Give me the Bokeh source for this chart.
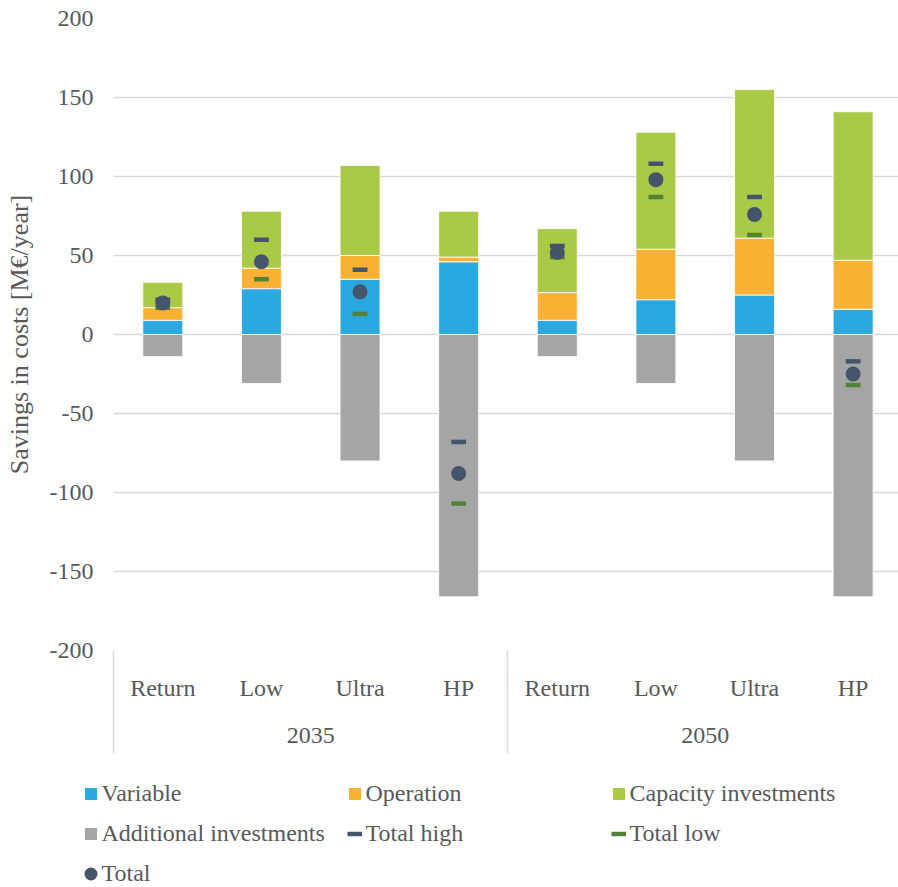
from bokeh.plotting import figure
from bokeh.layouts import column
from bokeh.models import (Range1d, FixedTicker, LinearAxis, Legend, LegendItem,
                          ColumnDataSource)
from bokeh.transform import dodge
from bokeh.embed import file_html
from bokeh.resources import INLINE

# ---- data ----
years = ["2035", "2050"]
scenarios = ["Return", "Low", "Ultra", "HP"]
variable = [9, 29, 35, 46, 9, 22, 25, 16]
operation = [8, 13, 15, 3, 17.5, 32, 36, 31]
capacity = [16, 36, 57, 29, 40.5, 74, 94, 94]
additional = [-14, -31, -80, -166, -14, -31, -80, -166]
total = [20, 46, 27, -88, 52, 98, 76, -25]
total_high = [22, 60, 41, -68, 56, 108, 87, -17]
total_low = [17, 35, 13, -107, 49, 87, 63, -32]
y_ticks = [-200, -150, -100, -50, 0, 50, 100, 150, 200]

labels = [s for _ in years for s in scenarios]
xs = [i + 0.5 for i in range(len(labels))]
year_pos = [sum(xs[k * len(scenarios):(k + 1) * len(scenarios)]) / len(scenarios)
            for k in range(len(years))]
group_edges = [k * len(scenarios) for k in range(len(years) + 1)]

src = ColumnDataSource(dict(x=xs, variable=variable, operation=operation,
                            capacity=capacity, additional=additional,
                            total=total, total_high=total_high, total_low=total_low))

FONT = "Liberation Serif"
TXT = "#595959"
FS = "24px"
C_VAR, C_OP, C_CAP, C_ADD = "#2CA8E0", "#F8B133", "#AAC947", "#A5A5A5"
C_HIGH, C_LOW, C_TOT = "#44546A", "#548235", "#44546A"

W = 898
H_TOP = 755
H_LEG = 887 - H_TOP

p = figure(width=W, height=H_TOP,
           x_range=Range1d(0, 7.96), y_range=Range1d(-200, 200),
           output_backend="svg", toolbar_location=None,
           min_border_left=113, min_border_top=18, min_border_right=0,
           min_border_bottom=H_TOP - 18 - 632)
p.outline_line_color = None

# bars
stack = p.vbar_stack(["variable", "operation", "capacity"], x="x", width=0.405,
                     source=src, color=[C_VAR, C_OP, C_CAP],
                     line_color="white", line_width=0.8)
r_add = p.vbar(x="x", top=0, bottom="additional", width=0.405, source=src,
               fill_color=C_ADD, line_color="white", line_width=0.8)

# markers
p.segment(x0=dodge("x", -0.075, range=p.x_range), x1=dodge("x", 0.075, range=p.x_range),
          y0="total_high", y1="total_high", source=src, line_color=C_HIGH, line_width=4.5)
p.segment(x0=dodge("x", -0.075, range=p.x_range), x1=dodge("x", 0.075, range=p.x_range),
          y0="total_low", y1="total_low", source=src, line_color=C_LOW, line_width=4.5)
p.scatter(x="x", y="total", source=src, marker="circle", size=8,
          fill_color=C_TOT, line_color=C_TOT, line_width=7)

# y axis
ya = p.yaxis[0]
ya.ticker = FixedTicker(ticks=y_ticks)
ya.major_label_overrides = {t: str(t) for t in y_ticks}
ya.axis_line_color = None
ya.major_tick_line_color = None
ya.minor_tick_line_color = None
ya.major_tick_out = 0
ya.major_label_standoff = 20
ya.major_label_text_font = FONT
ya.major_label_text_font_size = FS
ya.major_label_text_color = TXT
ya.axis_label = "Savings in costs [M€/year]"
ya.axis_label_text_font = FONT
ya.axis_label_text_font_size = "26px"
ya.axis_label_text_font_style = "normal"
ya.axis_label_text_color = TXT
ya.axis_label_standoff = 13

p.ygrid.ticker = FixedTicker(ticks=y_ticks)
p.ygrid.grid_line_color = "#D9D9D9"
p.ygrid.grid_line_width = 1.5
p.xgrid.grid_line_color = None

# x axis: scenario labels + group separators
xa = p.xaxis[0]
xa.ticker = FixedTicker(ticks=xs, minor_ticks=group_edges)
xa.major_label_overrides = {x: l for x, l in zip(xs, labels)}
xa.axis_line_color = None
xa.major_tick_line_color = None
xa.major_tick_out = 0
xa.major_tick_in = 0
xa.minor_tick_in = 0
xa.minor_tick_out = 103
xa.minor_tick_line_color = "#D9D9D9"
xa.minor_tick_line_width = 1.5
xa.major_label_standoff = -79
xa.major_label_text_font = FONT
xa.major_label_text_font_size = FS
xa.major_label_text_color = TXT

# year axis
yr = LinearAxis(ticker=FixedTicker(ticks=year_pos, minor_ticks=[]),
                major_label_overrides={x: y for x, y in zip(year_pos, years)})
yr.axis_line_color = None
yr.major_tick_line_color = None
yr.minor_tick_line_color = None
yr.major_tick_out = 0
yr.major_tick_in = 0
yr.major_label_standoff = 24
yr.major_label_text_font = FONT
yr.major_label_text_font_size = FS
yr.major_label_text_color = TXT
p.add_layout(yr, "below")

# legend figure: same series drawn outside its visible range, only the legend shows
q = figure(width=W, height=H_LEG, x_range=Range1d(0, 8), y_range=Range1d(1000, 1001),
           output_backend="svg", toolbar_location=None,
           x_axis_type=None, y_axis_type=None,
           min_border_left=0, min_border_right=0, min_border_top=0, min_border_bottom=0)
q.frame_align = False
q.outline_line_color = None
q.xgrid.visible = False
q.ygrid.visible = False
l_var = q.vbar(x="x", top="variable", width=0.4, source=src, fill_color=C_VAR, line_color=None)
l_op = q.vbar(x="x", top="operation", width=0.4, source=src, fill_color=C_OP, line_color=None)
l_cap = q.vbar(x="x", top="capacity", width=0.4, source=src, fill_color=C_CAP, line_color=None)
l_add = q.vbar(x="x", top="additional", width=0.4, source=src, fill_color=C_ADD, line_color=None)
l_high = q.segment(x0="x", y0="total_high", x1="x", y1="total_high", source=src,
                   line_color=C_HIGH, line_width=4.5)
l_low = q.segment(x0="x", y0="total_low", x1="x", y1="total_low", source=src,
                  line_color=C_LOW, line_width=4.5)
l_tot = q.scatter(x="x", y="total", source=src, marker="circle", size=8,
                  fill_color=C_TOT, line_color=C_TOT, line_width=7)

items = [
    LegendItem(label="Variable", renderers=[l_var]),
    LegendItem(label="Operation", renderers=[l_op]),
    LegendItem(label="Capacity investments", renderers=[l_cap]),
    LegendItem(label="Additional investments", renderers=[l_add]),
    LegendItem(label="Total high", renderers=[l_high]),
    LegendItem(label="Total low", renderers=[l_low]),
    LegendItem(label="Total", renderers=[l_tot]),
]
legend = Legend(items=items, location=(82.5, 0), orientation="horizontal", ncols=3,
                glyph_width=15, glyph_height=15, label_standoff=4, label_width=232,
                label_height=27, spacing=13, padding=0, margin=0,
                border_line_color=None, background_fill_alpha=0,
                label_text_font=FONT, label_text_font_size=FS, label_text_color=TXT)
q.add_layout(legend, "center")

layout = column(p, q, spacing=0)
open("out.html", "w").write(file_html(layout, INLINE))
